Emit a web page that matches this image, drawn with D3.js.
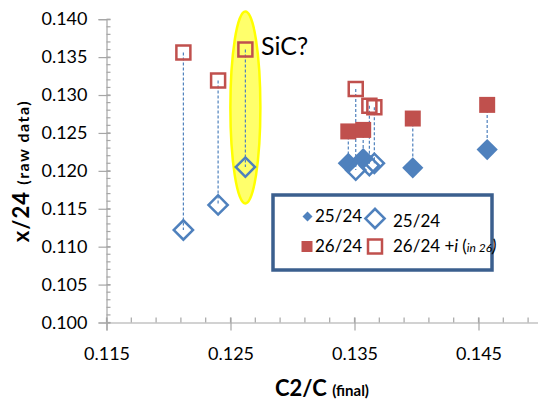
<!DOCTYPE html>
<html>
<head>
<meta charset="UTF-8">
<title>x/24 vs C2/C</title>
<script src="https://cdnjs.cloudflare.com/ajax/libs/d3/7.8.2/d3.min.js"></script>
<style>
  body { margin: 0; background: #fff; }
  svg { display: block; font-family: Lato, "Open Sans", sans-serif; }
  .tick text { fill: #000; }
</style>
</head>
<body>
<svg width="538" height="400"></svg>
<script>
// filled markers (25/24 diamond, 26/24 square)
const solidX  = [0.1345, 0.1357, 0.1397, 0.1457];
const solid25 = [0.1210, 0.1216, 0.1204, 0.1228];
const solid26 = [0.1252, 0.1254, 0.1269, 0.1287];
// open markers (25/24 diamond, 26/24 + i square)
const openX  = [0.1212, 0.1240, 0.1262, 0.1351, 0.1362, 0.1366];
const open25 = [0.1122, 0.1155, 0.1205, 0.1201, 0.1207, 0.1210];
const open26 = [0.1356, 0.1319, 0.1360, 0.1308, 0.1286, 0.1284];

const xTicks = [0.115, 0.125, 0.135, 0.145];
const yTicks = [0.100, 0.105, 0.110, 0.115, 0.120, 0.125, 0.130, 0.135, 0.140];

const blue = "#4f81bd", red = "#c0504d", axisCol = "#a6a6a6";

const svg = d3.select("svg");
const x = d3.scaleLinear().domain([0.115, 0.150]).range([106.5, 540.5]);
const y = d3.scaleLinear().domain([0.100, 0.140]).range([322.5, 19.2]);

// SiC highlight
svg.append("ellipse")
  .attr("cx", x(0.1262)).attr("cy", 107.5)
  .attr("rx", 15).attr("ry", 96)
  .attr("fill", "#ffff6b").attr("stroke", "#ffff00").attr("stroke-width", 2.5);

// minor ticks
const g = svg.append("g").attr("stroke", axisCol).attr("stroke-width", 1.2);
g.selectAll(".mx").data(d3.range(0.115, 0.1495, 0.002)).enter().append("line")
  .attr("x1", d => x(d)).attr("x2", d => x(d))
  .attr("y1", y(0.1)).attr("y2", y(0.1) - 5);
g.selectAll(".my").data(d3.range(0.100, 0.1405, 0.001)).enter().append("line")
  .attr("y1", d => y(d)).attr("y2", d => y(d))
  .attr("x1", x(0.115)).attr("x2", x(0.115) + 4);

// axes
const xAxis = svg.append("g").attr("transform", `translate(0,${y(0.1)})`)
  .call(d3.axisBottom(x).tickValues(xTicks).tickFormat(d3.format(".3f")).tickSize(8).tickPadding(17));
const yAxis = svg.append("g").attr("transform", `translate(${x(0.115)},0)`)
  .call(d3.axisLeft(y).tickValues(yTicks).tickFormat(d3.format(".3f")).tickSize(8).tickPadding(11));
[xAxis, yAxis].forEach(a => {
  a.select(".domain").attr("stroke", axisCol).attr("stroke-width", 1.2);
  a.selectAll(".tick line").attr("stroke", axisCol).attr("stroke-width", 1.2);
  a.selectAll(".tick text").attr("font-size", 18).attr("font-family", "Lato, sans-serif");
});
xAxis.selectAll(".tick line").attr("y1", -5);
yAxis.selectAll(".tick line").attr("x2", -8).attr("x1", 4);

// dotted connectors
const drop = svg.append("g").attr("stroke", blue).attr("stroke-width", 1.2).attr("stroke-dasharray", "3,2");
drop.selectAll(".s").data(solidX).enter().append("line")
  .attr("x1", d => x(d)).attr("x2", d => x(d))
  .attr("y1", (d, i) => y(solid26[i])).attr("y2", (d, i) => y(solid25[i]));
drop.selectAll(".o").data(openX).enter().append("line")
  .attr("x1", d => x(d)).attr("x2", d => x(d))
  .attr("y1", (d, i) => y(open26[i])).attr("y2", (d, i) => y(open25[i]));

const sq = s => d3.symbol().type(d3.symbolSquare).size(s)();

// markers
function marks(xs, ys, size, rot, fill, stroke, sw) {
  svg.append("g").selectAll("path").data(xs).enter().append("path")
    .attr("d", sq(size))
    .attr("transform", (d, i) => `translate(${x(d)},${y(ys[i])}) rotate(${rot})`)
    .attr("fill", fill).attr("stroke", stroke).attr("stroke-width", sw);
}
marks(solidX, solid26, 256, 0, red, "none", 0);
marks(solidX, solid25, 225, 45, blue, "none", 0);
marks(openX, open26, 196, 0, "none", red, 2.5);
marks(openX, open25, 185, 45, "none", blue, 2.5);

// SiC? label
svg.append("text").attr("x", 261).attr("y", 55)
  .attr("font-size", 25).text("SiC?");

// legend
const lg = svg.append("g");
lg.append("rect").attr("x", 273).attr("y", 195).attr("width", 219).attr("height", 75)
  .attr("fill", "#fff").attr("stroke", "#3b5f8e").attr("stroke-width", 3.5);
const item = (cx, cy, size, rot, fill, stroke, sw) =>
  lg.append("path").attr("d", sq(size))
    .attr("transform", `translate(${cx},${cy}) rotate(${rot})`)
    .attr("fill", fill).attr("stroke", stroke).attr("stroke-width", sw);
item(307.5, 216.5, 50, 45, blue, "none", 0);
item(375, 218.5, 185, 45, "none", blue, 2.5);
item(307, 246.5, 121, 0, red, "none", 0);
item(375, 246.5, 196, 0, "none", red, 2.5);
lg.append("text").attr("x", 315).attr("y", 222).attr("font-size", 17).text("25/24");
lg.append("text").attr("x", 393).attr("y", 227).attr("font-size", 17).text("25/24");
lg.append("text").attr("x", 315).attr("y", 252).attr("font-size", 17).text("26/24");
const t4 = lg.append("text").attr("x", 393).attr("y", 252).attr("font-size", 17);
t4.append("tspan").text("26/24 +");
t4.append("tspan").attr("font-style", "italic").text("i ");
t4.append("tspan").text("(");
t4.append("tspan").attr("font-style", "italic").attr("font-size", 12).text("in 26");
t4.append("tspan").attr("font-style", "italic").text(")");

// axis titles
const xt = svg.append("text").attr("x", 322).attr("y", 396)
  .attr("text-anchor", "middle").attr("font-weight", "bold");
xt.append("tspan").attr("font-size", 22).text("C2/C ");
xt.append("tspan").attr("font-size", 15).text("(final)");

const yt = svg.append("text").attr("transform", "translate(29,171) rotate(-90)")
  .attr("text-anchor", "middle").attr("font-weight", "bold");
yt.append("tspan").attr("font-size", 22).attr("letter-spacing", 1).text("x/24 ");
yt.append("tspan").attr("font-size", 16).attr("letter-spacing", 1.5).text("(raw data)");
</script>
</body>
</html>
